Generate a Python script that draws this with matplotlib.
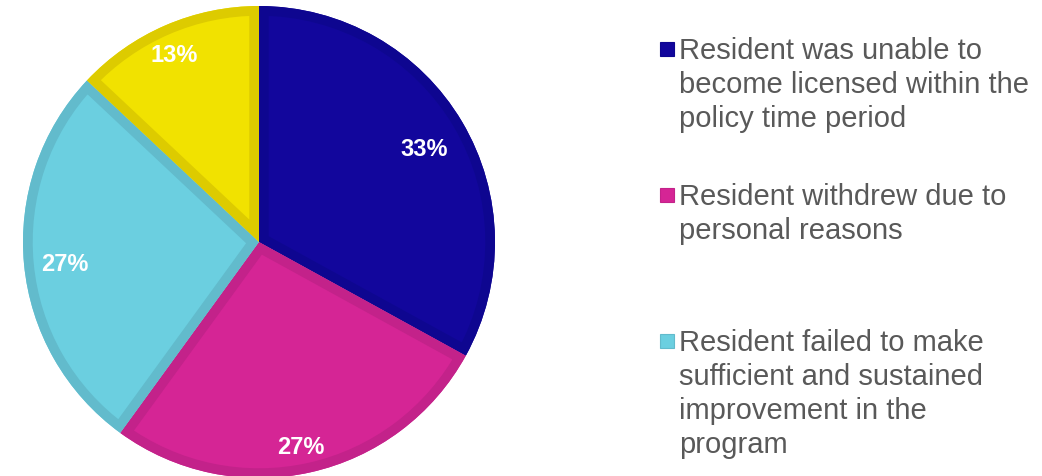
import numpy as np
import matplotlib.pyplot as plt
import matplotlib.patches as mpatches

plt.rcParams["font.family"] = ["Liberation Sans", "DejaVu Sans"]

# share of residents by reason for leaving (percent)
shares = [33, 27, 27, 13]
pct_labels = ["33%", "27%", "27%", "13%"]
legend_lines = [
    ["Resident was unable to", "become licensed within the", "policy time period"],
    ["Resident withdrew due to", "personal reasons"],
    ["Resident failed to make", "sufficient and sustained", "improvement in the", "program"],
]

fills = ["#12069C", "#D52595", "#6BCFE0", "#F1E200"]
edges = ["#0E0690", "#C3228A", "#62BBCC", "#DDCB00"]

W, H = 1042, 477
fig = plt.figure(figsize=(W / 100, H / 100), dpi=100)
ax = fig.add_axes([0, 0, 1, 1])

cx, cy, R = 259, H - 243, 236
wedges, _ = ax.pie(shares, colors=fills, startangle=90, counterclock=False,
                   radius=R, center=(cx, cy), frame=True,
                   wedgeprops=dict(edgecolor="none", linewidth=0))
ax.set_xlim(0, W)
ax.set_ylim(0, H)
ax.axis("off")

# darker inner rim on each slice
for w, ec in zip(wedges, edges):
    rim = mpatches.Wedge(w.center, w.r, w.theta1, w.theta2, facecolor="none",
                         edgecolor=ec, linewidth=14, joinstyle="miter")
    ax.add_patch(rim)
    rim.set_clip_path(w)

# percentage labels, nudged off the slice mid-angle a bit
label_r = [0.805, 0.883, 0.826, 0.873]
label_nudge = [-1, -1, 1, 1]
for w, txt, fr, dn in zip(wedges, pct_labels, label_r, label_nudge):
    ang = np.deg2rad((w.theta1 + w.theta2) / 2 + dn)
    ax.text(cx + fr * R * np.cos(ang), cy + fr * R * np.sin(ang), txt,
            color="white", fontsize=17, fontweight="bold",
            ha="center", va="center")

# legend drawn by hand: fixed slot per entry, wrapped lines
x_box, x_text = 667, 679
first_base, slot, line_h = 59, 146, 34
for i, lines in enumerate(legend_lines):
    base = first_base + i * slot
    ax.add_patch(mpatches.Rectangle((x_box - 7, H - base + 2.5), 14, 14,
                                    facecolor=fills[i], edgecolor=edges[i], lw=0.8))
    for j, ln in enumerate(lines):
        ax.text(x_text, H - (base + j * line_h), ln, fontsize=21,
                color="#595959", ha="left", va="baseline")

fig.savefig("out.png", dpi=100)
